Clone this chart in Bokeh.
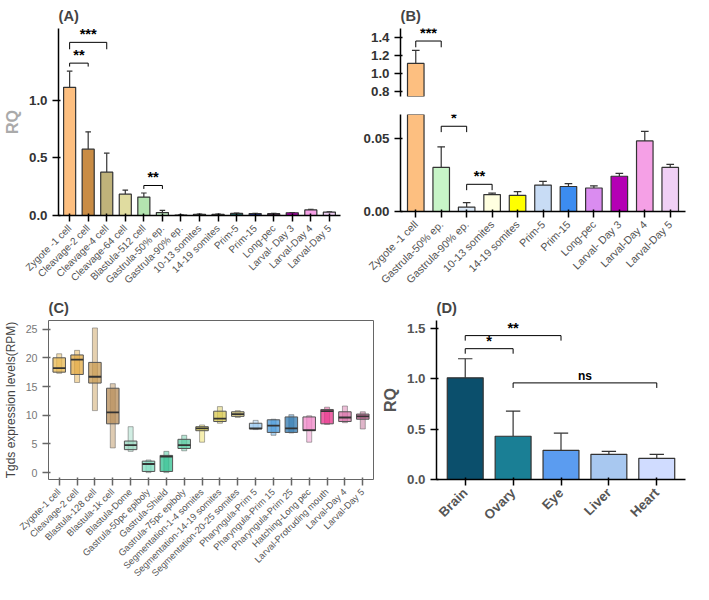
import math
from bokeh.plotting import figure
from bokeh.layouts import row, column
from bokeh.models import FixedTicker, Range1d, NumeralTickFormatter, Spacer
from bokeh.embed import file_html
from bokeh.resources import INLINE

FONT = "Liberation Sans"

# ---- Panel A ----
a_cats = ["Zygote -1 cell", "Cleavage-2 cell", "Cleavage-4 cell", "Cleavage-64 cell", "Blastula-512 cell",
          "Gastrula-50% ep.", "Gastrula-90% ep.", "10-13 somites", "14-19 somites", "Prim-5", "Prim-15",
          "Long-pec", "Larval- Day 3", "Larval-Day 4", "Larval-Day 5"]
a_vals = [1.11, 0.575, 0.375, 0.185, 0.16, 0.025, 0.003, 0.011, 0.011, 0.018, 0.017, 0.016, 0.024, 0.048, 0.030]
a_errs = [0.14, 0.15, 0.165, 0.035, 0.035, 0.02, 0.003, 0.001, 0.002, 0.003, 0.002, 0.002, 0.002, 0.006, 0.002]
a_cols = ["#FDBF80", "#C98C45", "#BFB27A", "#E0DCA0", "#B4E4B0", "#C8F5C8", "#DCEAF8", "#3A4A3A", "#3A3A2A",
          "#1F5F5F", "#1A2A8A", "#4A2A4A", "#A000A0", "#F5A0E6", "#F0D0F5"]

# ---- Panel B ----
b_cats = ["Zygote -1 cell", "Gastrula-50% ep.", "Gastrula-90% ep.", "10-13 somites", "14-19 somites", "Prim-5",
          "Prim-15", "Long-pec", "Larval- Day 3", "Larval-Day 4", "Larval-Day 5"]
b_vals = [1.11, 0.030, 0.003, 0.0115, 0.011, 0.018, 0.017, 0.016, 0.024, 0.048, 0.030]
b_errs = [0.145, 0.014, 0.003, 0.001, 0.0025, 0.0025, 0.002, 0.0015, 0.002, 0.0065, 0.002]
b_cols = ["#FDBF80", "#C8F5C8", "#DCEAF8", "#FFFFE0", "#FFFF00", "#C8DCF5", "#3C8CF0", "#DA8CF0", "#B400B4",
          "#F5A0E6", "#F0D0F5"]

# ---- Panel C ----
c_cats = ["Zygote-1 cell", "Cleavage-2 cell", "Blastula-128 cell", "Blastula-1k cell", "Blastula-Dome",
          "Gastrula-50pc epiboly", "Gastrula-Shield", "Gastrula-75pc epiboly", "Segmentation-1-4 somites",
          "Segmentation-14-19 somites", "Segmentation-20-25 somites", "Pharyngula-Prim 5", "Pharyngula-Prim 15",
          "Pharyngula-Prim 25", "Hatching-Long pec", "Larval-Protruding mouth", "Larval-Day 4", "Larval-Day 5"]
c_min = [17.3, 15.7, 10.8, 4.3, 3.7, 0.0, 0.0, 3.8, 5.3, 8.6, 9.6, 7.5, 6.5, 6.9, 5.3, 8.4, 8.7, 7.6]
c_q1 = [17.5, 17.1, 15.6, 8.5, 4.0, 0.2, 0.2, 4.2, 7.3, 8.9, 9.8, 7.6, 7.0, 7.0, 7.3, 8.5, 8.9, 9.3]
c_med = [18.2, 19.7, 16.7, 10.5, 4.8, 1.5, 2.8, 4.8, 7.7, 9.4, 10.2, 7.7, 8.2, 7.7, 7.4, 10.7, 9.6, 9.8]
c_q3 = [20.0, 20.5, 19.2, 14.7, 5.5, 2.0, 3.0, 5.8, 8.0, 10.7, 10.6, 8.6, 9.2, 9.7, 9.7, 11.0, 10.6, 10.2]
c_max = [20.7, 21.3, 25.2, 15.5, 8.0, 2.2, 3.7, 6.5, 8.3, 11.5, 10.8, 9.1, 9.3, 10.1, 9.9, 11.4, 11.6, 10.6]
c_cols = ["#E8B850", "#E3A83F", "#C89A50", "#B58B55", "#98D8C0", "#7FDDC0", "#30C090", "#5AC8A0", "#EBDC50",
          "#D8C850", "#D8C870", "#9AC8F0", "#4A98D8", "#2F78B0", "#F088C8", "#E8308A", "#D870A8", "#B85A88"]

# ---- Panel D ----
d_cats = ["Brain", "Ovary", "Eye", "Liver", "Heart"]
d_vals = [1.01, 0.43, 0.29, 0.25, 0.21]
d_errs = [0.19, 0.25, 0.17, 0.03, 0.04]
d_cols = ["#0B4F6C", "#1A7F95", "#5B9CF0", "#A8C8F0", "#D0DCFF"]


def style(p, label_size="8pt", tick_bold=True):
    p.title.text_font = FONT
    p.title.text_font_size = "11pt"
    p.title.text_font_style = "bold"
    p.xgrid.visible = False
    p.ygrid.visible = False
    p.outline_line_color = None
    for ax in p.axis:
        ax.major_label_text_font = FONT
        ax.axis_label_text_font = FONT
        ax.axis_line_width = 1.5
        ax.major_tick_line_width = 1.5
        ax.minor_tick_line_color = None
        ax.major_label_text_color = "#333333"
    p.xaxis.major_label_orientation = math.pi / 4
    p.xaxis.major_label_text_font_size = label_size
    p.xaxis.major_label_text_color = "#555555"
    p.yaxis.major_label_text_font_style = "bold" if tick_bold else "normal"
    p.yaxis.major_label_text_font_size = "10pt"


def set_cats(p, cats):
    p.xaxis.ticker = FixedTicker(ticks=list(range(len(cats))))
    p.xaxis.major_label_overrides = {i: c for i, c in enumerate(cats)}


def bracket(p, i0, i1, y, h, label, size="11pt"):
    p.line([i0, i0, i1, i1], [y - h, y, y, y - h], line_color="black", line_width=1)
    p.text(x=[(i0 + i1) / 2], y=[y], text=[label], text_align="center", text_baseline="bottom",
           text_font_size=size, text_font_style="bold", text_color="black")


def bars(p, vals, errs, cols, width=0.65):
    xs = list(range(len(vals)))
    tops = [v + e for v, e in zip(vals, errs)]
    p.segment(x0=xs, y0=vals, x1=xs, y1=tops, line_color="#333333", line_width=1.2)
    p.segment(x0=[x - 0.15 for x in xs], y0=tops, x1=[x + 0.15 for x in xs], y1=tops, line_color="#333333",
              line_width=1.2)
    p.vbar(x=xs, top=vals, bottom=0, width=width, fill_color=cols, line_color="#333333", line_width=1.2)


# Panel A
pa = figure(width=345, height=292, title="(A)", output_backend="svg", toolbar_location=None,
            x_range=Range1d(-0.6, len(a_cats) - 0.4), y_range=Range1d(-0.0, 1.62))
bars(pa, a_vals, a_errs, a_cols)
bracket(pa, 0, 1, 1.32, 0.03, "**")
bracket(pa, 0, 2, 1.5, 0.06, "***")
bracket(pa, 4, 5, 0.26, 0.03, "**")
style(pa, "7.5pt")
set_cats(pa, a_cats)
pa.yaxis.ticker = FixedTicker(ticks=[0.0, 0.5, 1.0])
pa.yaxis.formatter = NumeralTickFormatter(format="0.0")
pa.yaxis.axis_label = "RQ"
pa.yaxis.axis_label_text_color = "#AAAAAA"
pa.yaxis.axis_label_text_font_size = "12pt"
pa.yaxis.axis_label_text_font_style = "bold"
pa.min_border_left = 40

# Panel B (broken axis)
bx = Range1d(-0.6, len(b_cats) - 0.4)
pbt = figure(width=345, height=100, title="(B)", output_backend="svg", toolbar_location=None,
             x_range=bx, y_range=Range1d(0.74, 1.5))
bars(pbt, b_vals[:1], b_errs[:1], b_cols[:1])
bracket(pbt, 0, 1, 1.36, 0.07, "***")
style(pbt)
pbt.xaxis.visible = False
pbt.yaxis.ticker = FixedTicker(ticks=[0.8, 1.0, 1.2, 1.4])
pbt.yaxis.formatter = NumeralTickFormatter(format="0.0")
pbt.min_border_bottom = 4
pbt.min_border_left = 55

pbb = figure(width=345, height=182, output_backend="svg", toolbar_location=None,
             x_range=bx, y_range=Range1d(0, 0.066))
bars(pbb, b_vals, b_errs, b_cols)
bracket(pbb, 1, 2, 0.058, 0.004, "*")
bracket(pbb, 2, 3, 0.0185, 0.004, "**")
style(pbb, "8pt")
set_cats(pbb, b_cats)
pbb.yaxis.ticker = FixedTicker(ticks=[0.0, 0.05])
pbb.yaxis.formatter = NumeralTickFormatter(format="0.00")
pbb.min_border_top = 4
pbb.min_border_left = 55

# Panel C
pc = figure(width=378, height=292, title="(C)", output_backend="svg", toolbar_location=None,
            x_range=Range1d(-0.6, len(c_cats) - 0.4), y_range=Range1d(-1.2, 26.5))
xs = list(range(len(c_cats)))
pc.vbar(x=xs, bottom=c_min, top=c_max, width=0.28, fill_color=c_cols, fill_alpha=0.45, line_color="#555555",
        line_width=0.8, line_alpha=0.6)
pc.vbar(x=xs, bottom=c_q1, top=c_q3, width=0.7, fill_color=c_cols, fill_alpha=0.75, line_color="#555555",
        line_width=1)
pc.segment(x0=[x - 0.35 for x in xs], y0=c_med, x1=[x + 0.35 for x in xs], y1=c_med, line_color="#333333",
           line_width=1.8)
style(pc, "7pt", tick_bold=False)
set_cats(pc, c_cats)
pc.outline_line_color = "#666666"
pc.yaxis.ticker = FixedTicker(ticks=[0, 5, 10, 15, 20, 25])
pc.yaxis.major_label_text_font_size = "8pt"
pc.yaxis.major_label_text_color = "#777777"
pc.yaxis.axis_line_color = None
pc.xaxis.axis_line_color = None
pc.yaxis.axis_label = "Tgds expression levels(RPM)"
pc.yaxis.axis_label_text_font_size = "9pt"
pc.yaxis.axis_label_text_font_style = "normal"
pc.xaxis.major_tick_line_color = "#666666"
pc.yaxis.major_tick_line_color = "#666666"

# Panel D
pd_ = figure(width=312, height=292, title="(D)", output_backend="svg", toolbar_location=None,
             x_range=Range1d(-0.6, len(d_cats) - 0.4), y_range=Range1d(0, 1.58))
bars(pd_, d_vals, d_errs, d_cols, width=0.75)
bracket(pd_, 0, 1, 1.3, 0.05, "*")
bracket(pd_, 0, 2, 1.43, 0.05, "**")
bracket(pd_, 1, 4, 0.96, 0.05, "ns", size="9pt")
style(pd_, "10pt")
set_cats(pd_, d_cats)
pd_.xaxis.major_label_text_font_style = "bold"
pd_.yaxis.ticker = FixedTicker(ticks=[0.0, 0.5, 1.0, 1.5])
pd_.yaxis.formatter = NumeralTickFormatter(format="0.0")
pd_.yaxis.axis_label = "RQ"
pd_.yaxis.axis_label_text_color = "#555555"
pd_.yaxis.axis_label_text_font_size = "12pt"
pd_.yaxis.axis_label_text_font_style = "bold"
pd_.yaxis.major_label_text_color = "#555555"

layout = column(row(pa, column(pbt, Spacer(height=10), pbb)), row(pc, pd_))
open("out.html", "w").write(file_html(layout, INLINE))
